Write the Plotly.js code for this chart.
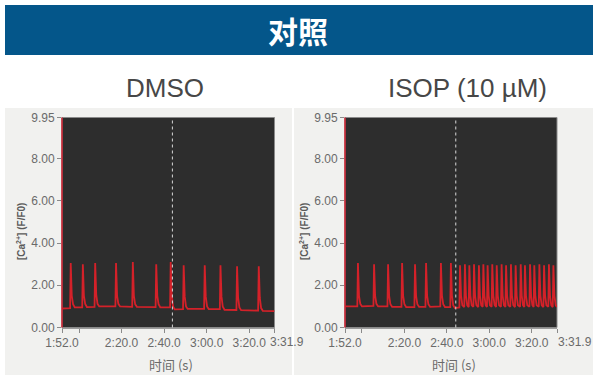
<!DOCTYPE html>
<html>
<head>
<meta charset="utf-8">
<script src="https://cdn.plot.ly/plotly-3.0.1.min.js"></script>
<style>
  html, body { margin: 0; padding: 0; background: #ffffff; }
  #chart { width: 593px; height: 375px; }
</style>
</head>
<body>
<div id="chart"></div>
<script>
// Calcium transient recordings, time in seconds (1:52.0 = 112 s)
const pageTitle = "对照";
const panelTitles = ["DMSO", "ISOP (10 µM)"];
const yTitle = "[Ca<sup>2+</sup>] (F/F0)";
const xTitle = "时间 (s)";

const timeRange = [112, 211.9];
const timeTickVals = [112, 140, 160, 180, 200];
const timeTickText = ["1:52.0", "2:20.0", "2:40.0", "3:00.0", "3:20.0"];
const timeMinorTicks = [120, 211.9];
const timeEnd = 211.9;
const timeEndText = "3:31.9";
const ratioRange = [0, 9.95];
const ratioTickVals = [0, 2, 4, 6, 8, 9.95];
const ratioTickText = ["0.00", "2.00", "4.00", "6.00", "8.00", "9.95"];

// time at which the treatment was marked (dotted line)
const markTimes = [163.9, 164.2];

// DMSO trace
const dmsoTime = [112,
  115.8, 116.1, 116.6, 117.2, 118.0,
  121.5, 121.8, 122.3, 122.9, 123.7,
  127.3, 127.6, 128.1, 128.7, 129.5,
  137.1, 137.4, 137.9, 138.5, 139.3,
  145.0, 145.3, 145.8, 146.4, 147.2,
  156.0, 156.3, 156.8, 157.4, 158.2,
  162.8, 163.1, 163.6, 164.2, 165.0,
  168.9, 169.2, 169.7, 170.3, 171.1,
  178.8, 179.1, 179.6, 180.2, 181.0,
  186.2, 186.5, 187.0, 187.6, 188.4,
  194.0, 194.3, 194.8, 195.4, 196.2,
  204.2, 204.5, 205.0, 205.6, 206.4,
  211.9];
const dmsoRatio = [0.9,
  0.92, 3.05, 1.5, 1.1, 0.95,
  0.95, 3.0, 1.5, 1.12, 0.97,
  0.98, 3.05, 1.55, 1.12, 1.0,
  1.0, 3.05, 1.5, 1.12, 1.0,
  0.98, 3.1, 1.5, 1.1, 0.98,
  0.97, 3.0, 1.5, 1.1, 0.96,
  0.95, 3.1, 1.5, 1.0, 0.86,
  0.87, 2.95, 1.45, 1.0, 0.88,
  0.88, 2.95, 1.45, 1.0, 0.87,
  0.87, 2.95, 1.45, 0.98, 0.84,
  0.83, 2.9, 1.4, 0.95, 0.82,
  0.8, 2.9, 1.4, 0.92, 0.79,
  0.78];

// ISOP (10 µM) trace
const isopTime = [112,
  117.8, 118.1, 118.6, 119.2, 120.0,
  125.4, 125.7, 126.2, 126.8, 127.6,
  132.0, 132.3, 132.8, 133.4, 134.2,
  138.6, 138.9, 139.4, 140.0, 140.8,
  144.7, 145.0, 145.5, 146.1, 146.9,
  149.9, 150.2, 150.7, 151.3, 152.1,
  156.9, 157.2, 157.7, 158.3, 159.1,
  161.6, 161.9, 162.4, 163.0, 163.8,
  165.9, 166.2, 166.7, 167.3,
  168.2, 168.5, 169.0, 169.6,
  170.3, 170.6, 171.1, 171.7,
  172.5, 172.8, 173.3, 173.9,
  174.8, 175.1, 175.6, 176.2,
  176.9, 177.2, 177.7, 178.3,
  178.9, 179.2, 179.7, 180.3,
  181.1, 181.4, 181.9, 182.5,
  183.2, 183.5, 184.0, 184.6,
  185.5, 185.8, 186.3, 186.9,
  187.6, 187.9, 188.4, 189.0,
  189.9, 190.2, 190.7, 191.3,
  192.1, 192.4, 192.9, 193.5,
  194.5, 194.8, 195.3, 195.9,
  196.5, 196.8, 197.3, 197.9,
  198.9, 199.2, 199.7, 200.3,
  200.9, 201.2, 201.7, 202.3,
  203.3, 203.6, 204.1, 204.7,
  205.5, 205.8, 206.3, 206.9,
  207.8, 208.1, 208.6, 209.2,
  209.9, 210.2, 210.7, 211.3,
  211.9];
const isopRatio = [1.0,
  1.0, 3.05, 1.5, 1.12, 1.0,
  1.02, 3.0, 1.5, 1.12, 1.0,
  1.0, 3.0, 1.5, 1.1, 0.98,
  0.98, 3.05, 1.5, 1.1, 0.97,
  0.97, 3.0, 1.5, 1.1, 0.98,
  0.98, 3.05, 1.5, 1.1, 0.98,
  1.0, 3.05, 1.5, 1.1, 0.97,
  0.97, 3.05, 1.5, 1.05, 0.92,
  0.95, 2.95, 1.5, 1.05,
  0.97, 3.0, 1.5, 1.05,
  0.97, 2.95, 1.5, 1.05,
  0.98, 3.0, 1.5, 1.06,
  0.97, 2.95, 1.5, 1.05,
  0.98, 3.0, 1.5, 1.05,
  0.97, 2.95, 1.5, 1.05,
  0.98, 3.0, 1.5, 1.06,
  0.97, 2.95, 1.5, 1.05,
  0.98, 3.0, 1.5, 1.05,
  0.97, 2.95, 1.5, 1.05,
  0.98, 3.0, 1.5, 1.06,
  0.97, 2.95, 1.5, 1.05,
  0.98, 3.0, 1.5, 1.05,
  0.97, 2.95, 1.5, 1.05,
  0.98, 3.0, 1.5, 1.06,
  0.97, 2.95, 1.5, 1.05,
  0.98, 3.0, 1.5, 1.05,
  0.97, 2.95, 1.5, 1.05,
  0.98, 3.0, 1.5, 1.05,
  0.97, 2.95, 1.5, 1.05,
  0.98];

// page geometry in pixels
const W = 593, H = 375;
const px = v => v / W;
const py = v => 1 - v / H;

const plotTop = 117.5, plotBottom = 327.5;
const panels = [
  { left: 62, right: 274.5, bgLeft: 5, bgRight: 292, endShift: -7 },
  { left: 345, right: 557, bgLeft: 294, bgRight: 593, endShift: -1 }
];

const traceColor = "#d42129";
const tickFont = { family: "Liberation Sans, Arial, sans-serif", size: 12, color: "#6a6a6a" };

function timeAxis(p, anchor) {
  return {
    domain: [px(p.left), px(p.right)],
    anchor: anchor,
    range: timeRange,
    tickmode: "array",
    tickvals: timeTickVals,
    ticktext: timeTickText,
    tickangle: 0,
    ticks: "outside", ticklen: 4, tickwidth: 1, tickcolor: "#8a8a8a",
    minor: { tickmode: "array", tickvals: timeMinorTicks, ticks: "outside",
             ticklen: 4, tickwidth: 1, tickcolor: "#8a8a8a", showgrid: false },
    showline: true, linecolor: "#9a9a9a", linewidth: 1,
    showgrid: false, zeroline: false,
    tickfont: tickFont,
    fixedrange: true
  };
}
function ratioAxis(anchor) {
  return {
    domain: [py(plotBottom), py(plotTop)],
    anchor: anchor,
    range: ratioRange,
    tickmode: "array",
    tickvals: ratioTickVals,
    ticktext: ratioTickText,
    ticks: "outside", ticklen: 4, tickwidth: 1, tickcolor: "#8a8a8a",
    showline: false,
    showgrid: false, zeroline: false,
    tickfont: tickFont,
    fixedrange: true
  };
}

const data = [
  { x: dmsoTime, y: dmsoRatio, xaxis: "x", yaxis: "y", type: "scatter", mode: "lines",
    line: { color: traceColor, width: 1.8 }, hoverinfo: "skip" },
  { x: isopTime, y: isopRatio, xaxis: "x2", yaxis: "y2", type: "scatter", mode: "lines",
    line: { color: traceColor, width: 1.8 }, hoverinfo: "skip" }
];

const shapes = [
  // header band
  { type: "rect", xref: "paper", yref: "paper", layer: "below",
    x0: px(5), x1: px(593), y0: py(55), y1: py(5),
    fillcolor: "#04568a", line: { width: 0 } }
];
const annotations = [
  { text: "<b>" + pageTitle + "</b>", xref: "paper", yref: "paper",
    x: px(298), y: py(30), xanchor: "center", yanchor: "middle", showarrow: false,
    font: { family: "Noto Sans CJK SC, sans-serif", size: 30, color: "#ffffff" } }
];

panels.forEach((p, i) => {
  const xa = i === 0 ? "x" : "x2";
  const ya = i === 0 ? "y" : "y2";
  // grey panel behind each plot
  shapes.push({ type: "rect", xref: "paper", yref: "paper", layer: "below",
    x0: px(p.bgLeft), x1: px(p.bgRight), y0: 0, y1: py(108),
    fillcolor: "#f1f1ef", line: { width: 0 } });
  // dark plotting area
  shapes.push({ type: "rect", xref: xa + " domain", yref: ya + " domain", layer: "below",
    x0: 0, x1: 1, y0: 0, y1: 1,
    fillcolor: "#2d2d2d", line: { color: "#8a8a8a", width: 1 } });
  // dotted marker line
  shapes.push({ type: "line", xref: xa, yref: ya + " domain",
    x0: markTimes[i], x1: markTimes[i], y0: 0, y1: 1,
    line: { color: "#d8d8d8", width: 1, dash: "dot" } });
  // red value axis
  shapes.push({ type: "line", xref: xa + " domain", yref: ya + " domain",
    x0: 0, x1: 0, y0: 0, y1: 1, line: { color: "#d02030", width: 1.5 } });

  // last time label sits to the right of its tick
  annotations.push({ text: timeEndText, xref: xa, yref: "paper",
    x: timeEnd, y: py(plotBottom + 5), xanchor: "left", yanchor: "top",
    xshift: p.endShift, showarrow: false, font: tickFont });

  const cx = (p.left + p.right) / 2;
  annotations.push({ text: panelTitles[i], xref: "paper", yref: "paper",
    x: px(i === 0 ? 165 : 467), y: py(88), xanchor: "center", yanchor: "middle", showarrow: false,
    font: { family: "Liberation Sans, Arial, sans-serif", size: 26, color: "#474747" } });
  annotations.push({ text: "<b>" + yTitle + "</b>", xref: "paper", yref: "paper",
    x: px(p.left - 41), y: py(232), xanchor: "center", yanchor: "middle", showarrow: false,
    textangle: -90,
    font: { family: "Liberation Sans, Arial, sans-serif", size: 10, color: "#5a5a5a" } });
  annotations.push({ text: xTitle, xref: "paper", yref: "paper",
    x: px(cx + 3), y: py(364), xanchor: "center", yanchor: "middle", showarrow: false,
    font: { family: "Noto Sans CJK SC, sans-serif", size: 13, color: "#6a6a6a" } });
});

const layout = {
  width: W, height: H,
  margin: { l: 0, r: 0, t: 0, b: 0 },
  paper_bgcolor: "#ffffff",
  plot_bgcolor: "rgba(0,0,0,0)",
  showlegend: false,
  xaxis: timeAxis(panels[0], "y"),
  yaxis: ratioAxis("x"),
  xaxis2: timeAxis(panels[1], "y2"),
  yaxis2: ratioAxis("x2"),
  shapes: shapes,
  annotations: annotations
};

Plotly.newPlot("chart", data, layout, { displayModeBar: false, staticPlot: true });
</script>
</body>
</html>
